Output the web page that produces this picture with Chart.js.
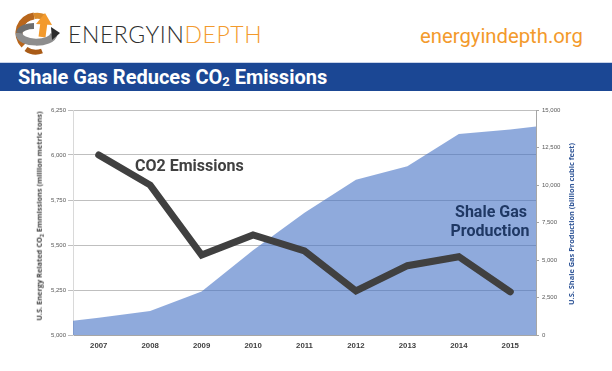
<!DOCTYPE html>
<html>
<head>
<meta charset="utf-8">
<script src="https://cdn.jsdelivr.net/npm/chart.js@4.4.1/dist/chart.umd.min.js"></script>
<style>
  body { margin: 0; width: 612px; height: 371px; overflow: hidden; background: #fff; position: relative; font-family: Roboto, "Liberation Sans", sans-serif; }
  #logo { position: absolute; left: 14px; top: 11px; }
  #brand { position: absolute; left: 68px; top: 20px; font-family: Lato, sans-serif; font-weight: 300; font-size: 23px; line-height: 28px; color: #2e2e2e; letter-spacing: 0.6px; white-space: nowrap; }
  #brand span { color: #f39a2c; }
  #site { position: absolute; left: 420px; top: 24px; font-size: 20.3px; color: #f39a2c; white-space: nowrap; }
  #banner { position: absolute; left: 0; top: 62px; width: 612px; height: 28px; background: #1b4794; border-top: 1px solid #c8d3e8; }
  #banner h1 { margin: 0; position: absolute; left: 18px; top: 3px; font-size: 20px; line-height: 22px; font-weight: 700; color: #fff; white-space: nowrap; }
  #banner h1 small { font-size: 13px; position: relative; top: 2px; }
  #wrap { position: absolute; left: 0; top: 95px; width: 612px; height: 276px; }
  .axt { position: absolute; white-space: nowrap; font-family: "Open Sans", sans-serif; font-weight: 700; font-size: 7.4px; transform: translate(-50%, -50%) rotate(-90deg); }
  .axt sub { font-size: 5.5px; }
  .note { position: absolute; white-space: nowrap; font-weight: 700; font-size: 16px; line-height: 16px; }
</style>
</head>
<body>
<svg id="logo" width="48" height="44" viewBox="0 0 48 44">
  <!-- back arcs -->
  <path d="M10 34 A17 17 0 0 1 20 5" fill="none" stroke="#b8661c" stroke-width="7"/>
  <path d="M20 5 A17 17 0 0 1 30 6" fill="none" stroke="#d98a2a" stroke-width="6"/>
  <!-- orange up arrow -->
  <path d="M28 26 L30 11" fill="none" stroke="#f39a2c" stroke-width="7"/>
  <path d="M22 13 L31 2 L38 14 Z" fill="#f39a2c"/>
  <!-- gray band in front -->
  <path d="M5 22 C5 34 38 34 40 23" fill="none" stroke="#8d8d8d" stroke-width="7"/>
  <path d="M5 22 C6 17 14 15 20 15" fill="none" stroke="#6e6e6e" stroke-width="6"/>
  <path d="M37 16 L46 22 L38 29 Z" fill="#2b2b2b"/>
  <path d="M12 38 A17 17 0 0 0 28 40" fill="none" stroke="#a95b17" stroke-width="5"/>
</svg>
<div id="brand">ENERGYIN<span>DEPTH</span></div>
<div id="site">energyindepth.org</div>
<div id="banner"><h1>Shale Gas Reduces CO<small>2</small> Emissions</h1></div>

<div id="wrap"><canvas id="chart" width="612" height="276"></canvas></div>

<div class="axt" style="left:40px; top:216px; color:#404040;">U.S. Energy Related CO<sub>2</sub> Emmissions (million metric tons)</div>
<div class="axt" style="left:571px; top:224px; color:#2f5597;">U.S. Shale Gas Production (billion cubic feet)</div>

<div class="note" style="left:135px; top:158px; color:#404040;">CO2 Emissions</div>
<div class="note" style="left:455px; top:204px; width:72px; text-align:center; color:#1f3864;">Shale Gas</div>
<div class="note" style="left:450px; top:223px; width:80px; text-align:center; color:#1f3864;">Production</div>

<script>
const years = [2007, 2008, 2009, 2010, 2011, 2012, 2013, 2014, 2015];
const co2 = [6000, 5833, 5444, 5556, 5467, 5245, 5385, 5435, 5240];
// area runs to the plot edges, so it has an extra point at each half-year edge
const gasYears = [2006.5, 2007, 2008, 2009, 2010, 2011, 2012, 2013, 2014, 2015, 2015.5];
const gas = [950, 1150, 1600, 2900, 5650, 8150, 10350, 11250, 13400, 13700, 13900];
const co2Ticks = [5000, 5250, 5500, 5750, 6000, 6250];
const gasTicks = [0, 2500, 5000, 7500, 10000, 12500, 15000];

Chart.defaults.font.family = "'Liberation Sans', sans-serif";

const fmt = v => v.toLocaleString("en-US");

new Chart(document.getElementById("chart"), {
  type: "line",
  data: {
    datasets: [
      {
        label: "CO2 Emissions",
        data: years.map((yr, i) => ({ x: yr, y: co2[i] })),
        yAxisID: "y",
        borderColor: "#404040",
        borderWidth: 7,
        borderCapStyle: "round",
        borderJoinStyle: "miter",
        pointRadius: 0,
        fill: false,
        order: 1
      },
      {
        label: "Shale Gas Production",
        data: gasYears.map((yr, i) => ({ x: yr, y: gas[i] })),
        yAxisID: "y1",
        borderWidth: 0,
        backgroundColor: "rgba(68,114,196,0.6)",
        pointRadius: 0,
        fill: "origin",
        order: 2
      }
    ]
  },
  options: {
    responsive: false,
    animation: false,
    devicePixelRatio: 1,
    layout: { padding: { top: 15, left: 0, right: 0, bottom: 0 } },
    plugins: { legend: { display: false }, tooltip: { enabled: false } },
    scales: {
      x: {
        type: "linear",
        min: 2006.5,
        max: 2015.5,
        afterBuildTicks: s => { s.ticks = years.map(v => ({ value: v })); },
        afterFit: s => { s.height = 36; },
        ticks: { callback: v => String(v), autoSkip: false, maxRotation: 0, padding: 6, color: "#404040", font: { size: 7.8, weight: "bold" } },
        grid: { display: false, drawTicks: false },
        border: { color: "#a6a6a6" }
      },
      y: {
        position: "left",
        min: 5000,
        max: 6250,
        afterBuildTicks: s => { s.ticks = co2Ticks.map(v => ({ value: v })); },
        afterFit: s => { s.width = 73; },
        ticks: { callback: fmt, padding: 2, color: "#595959", font: { size: 6 } },
        grid: { color: "#bfbfbf", tickLength: 5 },
        border: { color: "#d9d9d9" }
      },
      y1: {
        position: "right",
        min: 0,
        max: 15000,
        afterBuildTicks: s => { s.ticks = gasTicks.map(v => ({ value: v })); },
        afterFit: s => { s.width = 76; },
        ticks: { callback: fmt, padding: 3, color: "#595959", font: { size: 6 } },
        grid: { drawOnChartArea: false, color: "#a6a6a6", tickLength: 3 },
        border: { color: "#a6a6a6" }
      }
    }
  }
});
</script>
</body>
</html>
